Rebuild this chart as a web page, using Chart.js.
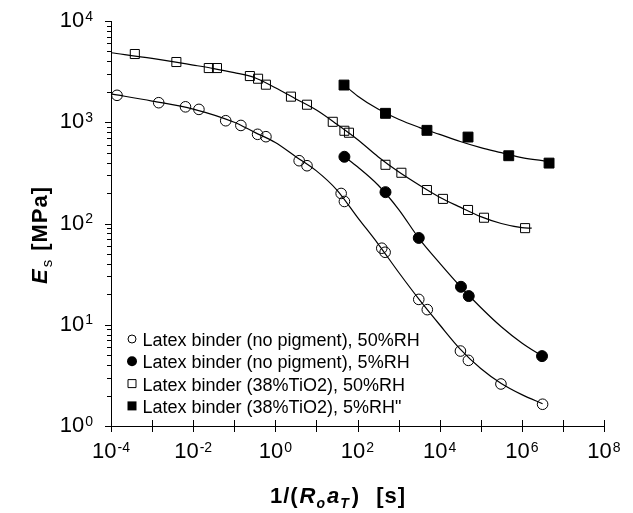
<!DOCTYPE html>
<html lang="en">
<head>
    <meta charset="UTF-8">
    <title>Es master curves</title>
    <script src="https://cdn.jsdelivr.net/npm/chart.js"></script>
    <style>
        body { margin: 0; background: #ffffff; }
        canvas { display: block; }
    </style>
</head>
<body>
    <canvas id="es-chart" width="633" height="513"></canvas>
    <script>
        // values: 1/(Ro aT) [s] vs Es [MPa]
        const seriesLabels = [
            "Latex binder (no pigment), 50%RH",
            "Latex binder (no pigment), 5%RH",
            "Latex binder (38%TiO2), 50%RH",
            "Latex binder (38%TiO2), 5%RH\""
        ];

        // measured points
        const noPig50X = [1.4e-4, 1.45e-3, 6.5e-3, 0.0138, 0.062, 0.145, 0.37, 0.59, 3.8, 5.9, 40, 48, 390, 470, 3100, 5000, 32000, 50000, 3.1e5, 3.2e6];
        const noPig50Y = [1845, 1560, 1420, 1340, 1035, 930, 760, 720, 417, 372, 198, 165, 57, 52, 17.8, 14.1, 5.5, 4.45, 2.6, 1.64];
        const noPig5X = [48, 480, 3100, 33000, 51000, 3.1e6];
        const noPig5Y = [456, 204, 72, 23.7, 19.2, 4.9];
        const tio50X = [3.8e-4, 3.9e-3, 0.024, 0.038, 0.24, 0.38, 0.59, 2.4, 5.9, 25, 48, 62, 480, 1170, 4900, 12000, 49000, 1.2e5, 1.2e6];
        const tio50Y = [4720, 3935, 3430, 3430, 2860, 2690, 2350, 1790, 1490, 1010, 824, 788, 380, 317, 214, 175, 136, 114, 90];
        const tio5X = [47, 480, 4900, 49000, 4.8e5, 4.6e6];
        const tio5Y = [2330, 1225, 832, 714, 467, 395];

        // fitted curves
        const noPig50FitX = [1e-4, 1e-3, 1e-2, 0.1, 0.316, 1, 3.16, 10, 31.6, 100, 316, 1000, 3160, 1e4, 3.16e4, 1e5, 3.16e5, 1e6, 3.2e6];
        const noPig50FitY = [1905, 1620, 1350, 1000, 794, 631, 457, 331, 214, 115, 63, 33, 17.8, 10, 5.75, 3.7, 2.63, 2.04, 1.66];
        const noPig5FitX = [48, 100, 316, 1000, 3160, 1e4, 3.16e4, 1e5, 3.16e5, 1e6, 3.1e6];
        const noPig5FitY = [457, 363, 240, 138, 71, 40.7, 24, 14.8, 9.55, 6.6, 4.9];
        const tio50FitX = [1e-4, 1e-3, 0.01, 0.0316, 0.1, 0.316, 1, 3.16, 10, 31.6, 100, 316, 1000, 3160, 1e4, 3.16e4, 1e5, 3.16e5, 1e6, 1.74e6];
        const tio50FitY = [4860, 4270, 3670, 3390, 3090, 2750, 2190, 1700, 1320, 955, 676, 457, 324, 240, 182, 145, 117, 100, 91, 90];
        const tio5FitX = [47, 100, 316, 1000, 3160, 1e4, 3.16e4, 1e5, 3.16e5, 1e6, 3.16e6, 4.6e6];
        const tio5FitY = [2340, 1820, 1350, 1070, 891, 759, 646, 562, 501, 447, 417, 407];

        // decade exponents for the axes
        const xDecades = [-4, -3, -2, -1, 0, 1, 2, 3, 4, 5, 6, 7, 8];
        const xLabelDecades = [-4, -2, 0, 2, 4, 6, 8];
        const yDecades = [0, 1, 2, 3, 4];

        const FONT = "'Liberation Sans', Arial, sans-serif";

        function pts(xs, ys) {
            return xs.map((x, i) => ({ x: x, y: ys[i] }));
        }

        const fitStyle = {
            showLine: true,
            pointRadius: 0,
            borderColor: "#000",
            borderWidth: 1.2,
            cubicInterpolationMode: "monotone",
            fill: false
        };

        function markerSet(label, data, style, radius, filled) {
            return {
                label: label,
                data: data,
                pointStyle: style,
                pointRadius: radius,
                pointBorderWidth: 1,
                borderColor: "#000",
                pointBorderColor: "#000",
                pointBackgroundColor: filled ? "#000" : "rgba(0,0,0,0)",
                showLine: false,
                isMarker: true
            };
        }

        // "10" with a raised exponent
        function drawPower(ctx, exp, x, baseline, align) {
            const base = "10", sup = String(exp);
            ctx.font = "22px " + FONT;
            const wb = ctx.measureText(base).width;
            ctx.font = "14px " + FONT;
            const ws = ctx.measureText(sup).width;
            const total = wb + ws + 1;
            let left = x;
            if (align === "right") left = x - total;
            if (align === "center") left = x - total / 2;
            ctx.textAlign = "left";
            ctx.textBaseline = "alphabetic";
            ctx.font = "22px " + FONT;
            ctx.fillText(base, left, baseline);
            ctx.font = "14px " + FONT;
            ctx.fillText(sup, left + wb + 1, baseline - 6.5);
        }

        // text runs with mixed style
        function drawRuns(ctx, runs) {
            let pos = 0;
            runs.forEach(r => {
                ctx.font = r.font;
                ctx.fillText(r.t, pos + (r.gap || 0), r.dy || 0);
                pos += (r.gap || 0) + ctx.measureText(r.t).width;
            });
            return pos;
        }

        const decorPlugin = {
            id: "decor",
            afterDraw(chart) {
                const ctx = chart.ctx;
                const a = chart.chartArea;
                const xs = chart.scales.x, ys = chart.scales.y;
                ctx.save();
                ctx.strokeStyle = "#000";
                ctx.fillStyle = "#000";
                ctx.lineWidth = 1;

                // y ticks, major + minor
                ctx.beginPath();
                yDecades.forEach(e => {
                    const py = Math.round(ys.getPixelForValue(Math.pow(10, e))) + 0.5;
                    ctx.moveTo(a.left - 6, py); ctx.lineTo(a.left, py);
                    if (e < 4) {
                        for (let m = 2; m <= 9; m++) {
                            const pm = Math.round(ys.getPixelForValue(m * Math.pow(10, e))) + 0.5;
                            ctx.moveTo(a.left - 4, pm); ctx.lineTo(a.left, pm);
                        }
                    }
                });
                // x ticks cross the axis
                xDecades.forEach(e => {
                    const px = Math.round(xs.getPixelForValue(Math.pow(10, e))) + 0.5;
                    ctx.moveTo(px, a.bottom - 6); ctx.lineTo(px, a.bottom + 6);
                });
                ctx.stroke();

                // tick labels
                yDecades.forEach(e => {
                    const py = ys.getPixelForValue(Math.pow(10, e));
                    drawPower(ctx, e, a.left - 18, py + 6, "right");
                });
                xLabelDecades.forEach(e => {
                    const px = xs.getPixelForValue(Math.pow(10, e));
                    drawPower(ctx, e, px, a.bottom + 32, "center");
                });

                // legend, bottom left inside plot
                const markers = chart.data.datasets.filter(d => d.isMarker);
                markers.forEach((d, i) => {
                    const cy = a.bottom - 87 + i * 22.3;
                    const cx = a.left + 21;
                    ctx.beginPath();
                    if (d.pointStyle === "circle") {
                        const r = d.pointBackgroundColor === "#000" ? 5 : 4;
                        ctx.arc(cx, cy, r, 0, Math.PI * 2);
                    } else {
                        const s = d.pointBackgroundColor === "#000" ? 9 : 8;
                        ctx.rect(cx - s / 2, cy - s / 2, s, s);
                    }
                    if (d.pointBackgroundColor === "#000") ctx.fill(); else ctx.stroke();
                    ctx.font = "18px " + FONT;
                    ctx.textAlign = "left";
                    ctx.textBaseline = "alphabetic";
                    ctx.fillText(d.label, a.left + 31.5, cy + 7);
                });

                // x title: 1/(Ro aT)  [s]
                const bold = "bold 22px " + FONT, boldIt = "italic bold 22px " + FONT;
                const subIt = "italic bold 14px " + FONT;
                const xRuns = [
                    { t: "1/(", font: bold },
                    { t: "R", font: boldIt, gap: 1 },
                    { t: "o", font: subIt, dy: 5 },
                    { t: "a", font: boldIt, gap: 1 },
                    { t: "T", font: subIt, dy: 5 },
                    { t: ")", font: bold, gap: 2 },
                    { t: "[s]", font: bold, gap: 16 }
                ];
                ctx.letterSpacing = "1px";
                ctx.textAlign = "left";
                ctx.textBaseline = "alphabetic";
                ctx.save();
                ctx.globalAlpha = 0;
                const wx = drawRuns(ctx, xRuns);
                ctx.restore();
                ctx.save();
                ctx.translate(338 - wx / 2, 503);
                drawRuns(ctx, xRuns);
                ctx.restore();

                // y title: Es [MPa]
                const yRuns = [
                    { t: "E", font: boldIt },
                    { t: "s", font: "15px " + FONT, dy: 5, gap: 1 },
                    { t: "[MPa]", font: bold, gap: 8 }
                ];
                ctx.save();
                ctx.globalAlpha = 0;
                const wy = drawRuns(ctx, yRuns);
                ctx.restore();
                ctx.save();
                ctx.translate(47, 235 + wy / 2);
                ctx.rotate(-Math.PI / 2);
                drawRuns(ctx, yRuns);
                ctx.restore();

                ctx.restore();
            }
        };

        new Chart(document.getElementById("es-chart").getContext("2d"), {
            type: "scatter",
            data: {
                datasets: [
                    Object.assign({ data: pts(noPig50FitX, noPig50FitY) }, fitStyle),
                    Object.assign({ data: pts(noPig5FitX, noPig5FitY) }, fitStyle),
                    Object.assign({ data: pts(tio50FitX, tio50FitY) }, fitStyle),
                    Object.assign({ data: pts(tio5FitX, tio5FitY) }, fitStyle),
                    markerSet(seriesLabels[0], pts(noPig50X, noPig50Y), "circle", 5.3, false),
                    markerSet(seriesLabels[1], pts(noPig5X, noPig5Y), "circle", 5.5, true),
                    markerSet(seriesLabels[2], pts(tio50X, tio50Y), "rect", 6.4, false),
                    markerSet(seriesLabels[3], pts(tio5X, tio5Y), "rect", 7, true)
                ]
            },
            options: {
                responsive: false,
                animation: false,
                devicePixelRatio: 1,
                clip: false,
                layout: { padding: { top: 21, right: 29, left: 0, bottom: 0 } },
                plugins: {
                    legend: { display: false },
                    tooltip: { enabled: false }
                },
                scales: {
                    x: {
                        type: "logarithmic",
                        min: 1e-4,
                        max: 1e8,
                        grid: { display: false },
                        border: { display: true, color: "#000", width: 1 },
                        ticks: { display: false },
                        afterFit: s => { s.height = 87; }
                    },
                    y: {
                        type: "logarithmic",
                        min: 1,
                        max: 1e4,
                        grid: { display: false },
                        border: { display: true, color: "#000", width: 1 },
                        ticks: { display: false },
                        afterFit: s => { s.width = 111; }
                    }
                }
            },
            plugins: [decorPlugin]
        });
    </script>
</body>
</html>
